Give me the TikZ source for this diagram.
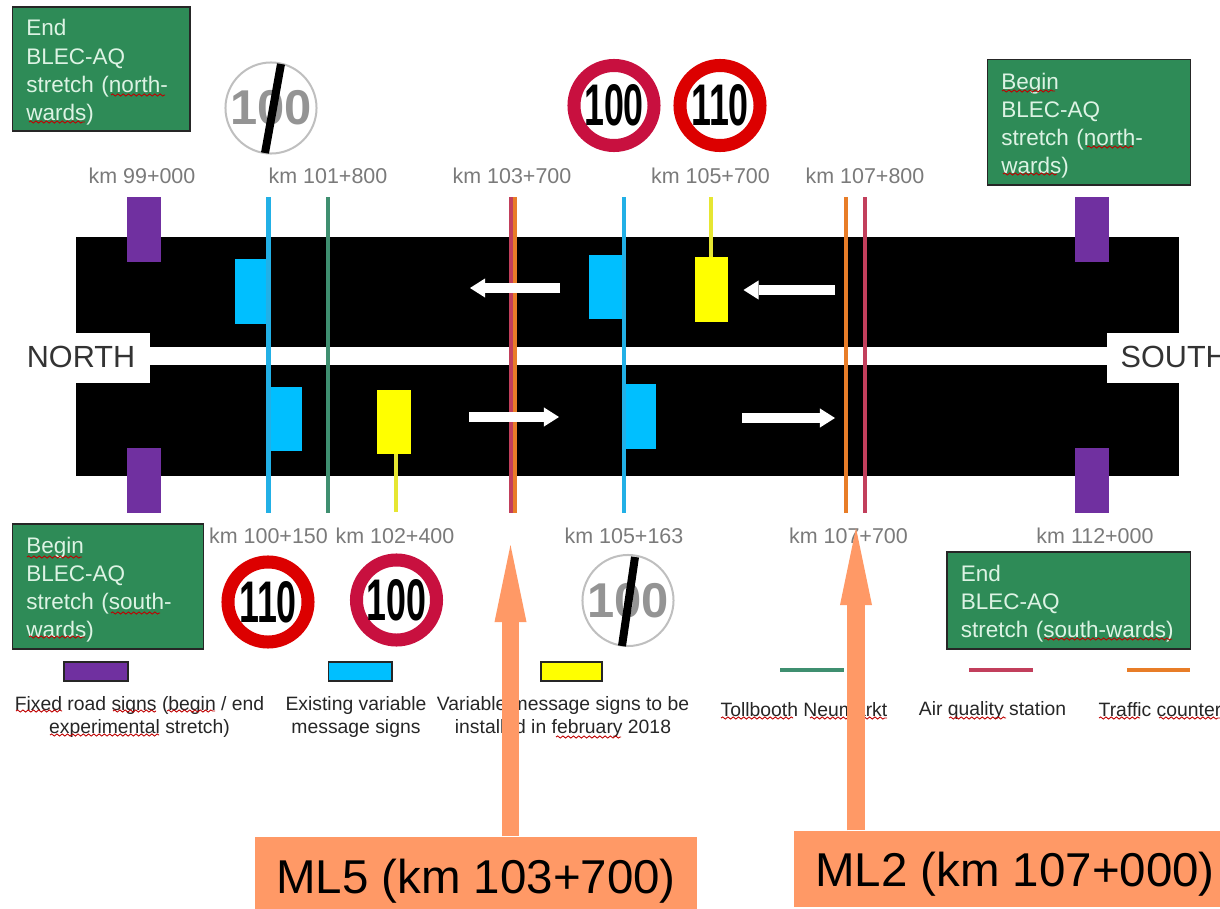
\documentclass[tikz,border=0pt]{standalone}
\usepackage{fontspec}
\setmainfont{Liberation Sans}
\usetikzlibrary{arrows.meta, decorations.pathmorphing}

\definecolor{signpurple}{HTML}{7030A0}
\definecolor{signblue}{HTML}{00BFFF}
\definecolor{lineblue}{HTML}{22B0E6}
\definecolor{signyellow}{HTML}{FFFF00}
\definecolor{lineyellow}{HTML}{E6E632}
\definecolor{tollgreen}{HTML}{3F8F70}
\definecolor{airred}{HTML}{C23F5C}
\definecolor{countorange}{HTML}{E87D28}
\definecolor{boxgreen}{HTML}{2E8B57}
\definecolor{boxtext}{HTML}{DDF3E4}
\definecolor{markorange}{HTML}{FF9966}
\definecolor{ringcrimson}{HTML}{C8103F}
\definecolor{ringred}{HTML}{DC0000}

\tikzset{
  kmlabel/.style={font=\fontsize{6.1}{7}\selectfont, text=black!52, inner sep=0pt},
  stretchbox/.style={draw=black!85, line width=0.5pt, fill=boxgreen, text=boxtext,
    font=\fontsize{6.4}{8}\selectfont, align=left, inner xsep=0.14cm, inner ysep=0pt,
    execute at begin node={\rule{0pt}{6.5pt}}},
  legendtext/.style={font=\fontsize{5.5}{6.8}\selectfont, text=black!85, align=center, inner sep=0pt},
  ringsign/.style={circle, draw=#1, line width=0.13cm, fill=white, minimum size=0.8cm,
    inner sep=0pt, font=\fontsize{16.7}{17}\selectfont\bfseries},
  endsign/.style={circle, draw=black!25, line width=0.02cm, minimum size=0.91cm, inner sep=0pt,
    text=black!42, font=\fontsize{13.9}{14}\selectfont\bfseries},
  slash/.style={line width=0.08cm},
  gantry/.style={line width=0.04cm},
  flow/.style={line width=0.1cm, white, -{Triangle[length=0.15cm, width=0.19cm, line width=0pt]}},
  spell/.style={draw=red!75!black, line width=0.25pt,
    decorate, decoration={snake, amplitude=0.3pt, segment length=1.5pt}},
  swatch/.style={draw=black!85, line width=0.5pt},
  mlbox/.style={fill=markorange, text=black, font=\fontsize{13.5}{15}\selectfont, inner sep=0pt},
  mlarrow/.style={markorange, line width=0.17cm, -{Triangle[length=0.77cm, width=0.32cm, line width=0pt]}}
}

\begin{document}
\begin{tikzpicture}[x=0.01cm, y=-0.01cm]
  \clip (0,0) rectangle (1220,909);

  % Carriageways
  \fill[black] (76,237) rectangle (1179,347);
  \fill[black] (76,365) rectangle (1179,476);
  \fill[white] (76,333) rectangle (150,383);
  \fill[white] (1107,333) rectangle (1179,383);
  \node[font=\fontsize{8.7}{10}\selectfont, text=black!80, inner sep=0pt] (north) at (81,357) {NORTH};
  \node[font=\fontsize{8.7}{10}\selectfont, text=black!80, inner sep=0pt, anchor=west] (south) at (1120,357) {SOUTH};

  % Fixed road signs
  \foreach \xa/\ya in {126.5/197, 126.5/448, 1075/197, 1075/448}
    \fill[signpurple] (\xa,\ya) rectangle ++(34,64.5);

  % Existing variable message signs
  \fill[signblue] (235,259) rectangle (270,324);
  \fill[signblue] (268,387) rectangle (302,451);
  \fill[signblue] (589,255) rectangle (625,319);
  \fill[signblue] (623,384) rectangle (656,449);

  % Lines across the road
  \foreach \xa/\col in {268.5/lineblue, 328/tollgreen, 510.5/airred, 514.5/countorange,
                        624/lineblue, 846/countorange, 865/airred}
    \draw[gantry, \col] (\xa,197) -- (\xa,513);
  \draw[gantry, lineyellow] (710.5,197) -- (710.5,260);
  \draw[gantry, lineyellow] (396,450) -- (396,512);

  % New variable message signs
  \fill[signyellow] (694.5,257) rectangle (728,322);
  \fill[signyellow] (377,390) rectangle (411,454);

  % Traffic directions
  \draw[flow] (560,288) -- (470,288);
  \draw[flow] (469,417) -- (559,417);
  \draw[flow] (835,290) -- (743.5,290);
  \draw[flow] (742,418) -- (835,418);

  % Kilometre labels
  \node[kmlabel] (kma) at (142,176) {km 99+000};
  \node[kmlabel] (kmb) at (328,176) {km 101+800};
  \node[kmlabel] (kmc) at (512,176) {km 103+700};
  \node[kmlabel] (kmd) at (710.5,176) {km 105+700};
  \node[kmlabel] (kme) at (865,176) {km 107+800};
  \node[kmlabel] (kmf) at (268.5,536) {km 100+150};
  \node[kmlabel] (kmg) at (395,536) {km 102+400};
  \node[kmlabel] (kmh) at (624,536) {km 105+163};
  \node[kmlabel] (kmi) at (848.5,536) {km 107+700};
  \node[kmlabel] (kmj) at (1095,536) {km 112+000};

  % Green stretch boxes
  \node[stretchbox, text width=1.495cm, minimum height=1.24cm] (endnorth) at (101.25,69)
    {End\\BLEC-AQ\\stretch (north-\\wards)};
  \node[stretchbox, text width=1.75cm, minimum height=1.255cm] (beginnorth) at (1089,122.25)
    {Begin\\BLEC-AQ\\stretch (north-\\wards)};
  \node[stretchbox, text width=1.63cm, minimum height=1.25cm] (beginsouth) at (108,586.5)
    {Begin\\BLEC-AQ\\stretch (south-\\wards)};
  \node[stretchbox, text width=2.155cm, minimum height=0.97cm] (endsouth) at (1068.75,600.5)
    {End\\BLEC-AQ\\stretch (south-wards)};

  % Speed signs
  \node[ringsign=ringcrimson] (limita) at (614,105.5) {\scalebox{0.61}[1]{100}};
  \node[ringsign=ringred] (limitb) at (720,105.5) {\scalebox{0.61}[1]{110}};
  \node[ringsign=ringred] (limitc) at (268,602) {\scalebox{0.61}[1]{110}};
  \node[ringsign=ringcrimson] (limitd) at (396.5,600) {\scalebox{0.61}[1]{100}};
  \node[endsign] (enda) at (271,108) {100};
  \draw[slash] (281,64) -- (265,153);
  \node[endsign] (endb) at (628,600.5) {100};
  \draw[slash] (635,557) -- (622,646);

  % Legend
  \fill[signpurple, swatch] (64,662) rectangle (128,681);
  \fill[signblue, swatch] (328.5,662) rectangle (392,681);
  \fill[signyellow, swatch] (541,662) rectangle (602,681);
  \draw[line width=0.04cm, tollgreen] (780,670) -- (843.5,670);
  \draw[line width=0.04cm, airred] (969,670) -- (1033,670);
  \draw[line width=0.04cm, countorange] (1127,670) -- (1190,670);
  \node[legendtext] (fixedtext) at (139.5,717) {Fixed road signs (begin / end\\experimental stretch)};
  \node[legendtext] (existingtext) at (356,717) {Existing variable\\message signs};
  \node[legendtext] (variabletext) at (563,717) {Variable message signs to be\\installed in february 2018};
  \node[legendtext] (tolltext) at (804,710) {Tollbooth Neumarkt};
  \node[legendtext] (airtext) at (992.5,710) {Air quality station};
  \node[legendtext, anchor=west] (traffictext) at (1098,710) {Traffic counter};

  % Spelling marks
  \foreach \xa/\xb/\ya in {111/165/95, 29/85/122, 1002/1055/91, 1087/1133/147, 1003/1057/174,
                           27/82/557, 111/160/613, 29/85/637, 1044/1172/639,
                           16/62/711, 113/156/711, 167/215/711, 50/159/735, 556/621/737,
                           721/793/718, 810/887/718, 949/1006/718, 1099/1140/718, 1159/1220/718}
    \draw[spell] (\xa,\ya) -- (\xb,\ya);

  % Measurement locations
  \node[mlbox, minimum width=4.42cm, minimum height=0.72cm, text height=12pt, text depth=0.25pt] (mlfive) at (476,873) {ML5 (km 103+700)};
  \node[mlbox, minimum width=4.26cm, minimum height=0.76cm, text height=10.5pt, text depth=0.5pt] (mltwo) at (1007,869) {\hspace*{0.16cm}ML2 (km 107+000)};
  \coordinate (mlfivetip) at (510.5,545);
  \coordinate (mltwotip) at (856,528);
  \draw[mlarrow] (mlfive.north -| mlfivetip) -- (mlfivetip);
  \draw[mlarrow] (mltwo.north -| mltwotip) -- (mltwotip);
\end{tikzpicture}
\end{document}
